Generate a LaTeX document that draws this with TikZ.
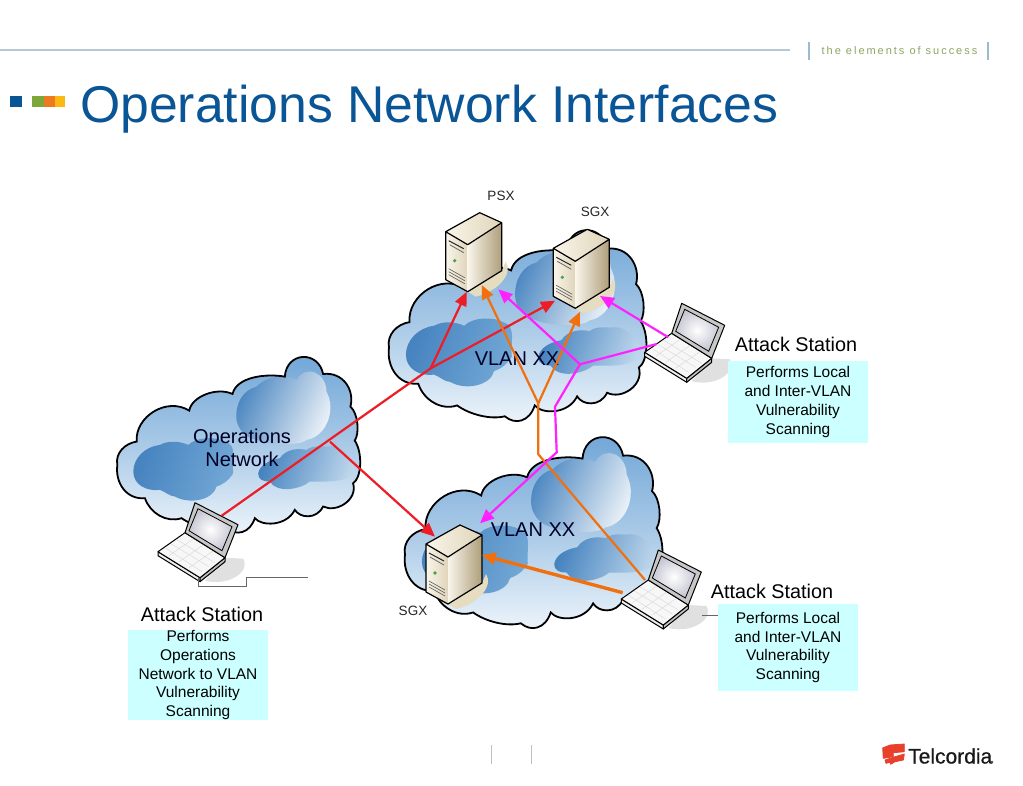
\documentclass[tikz,border=0pt]{standalone}
\usepackage{fontspec}
\setmainfont{Liberation Sans}
\usetikzlibrary{arrows.meta}
\definecolor{titleblue}{HTML}{0A5596}
\definecolor{rulecol}{HTML}{B4C8DA}
\definecolor{tickcol}{HTML}{9DBBD0}
\definecolor{tagcol}{HTML}{8FA660}
\definecolor{boxcyan}{HTML}{CCFFFF}
\definecolor{redl}{HTML}{EE1C25}
\definecolor{orangel}{HTML}{F0700F}
\definecolor{magl}{HTML}{FF22FF}
\definecolor{blobdark}{HTML}{4683BF}
\definecolor{blobmid}{HTML}{74A9D6}
\definecolor{cloudtop}{HTML}{6FA5D6}
\definecolor{cloudbot}{HTML}{EEF5FB}
\definecolor{beige}{HTML}{E6DCC0}
\definecolor{srvlight}{HTML}{F9F5EA}
\definecolor{srvmid}{HTML}{E0D5BA}
\definecolor{srvdark}{HTML}{AE9E7A}
\definecolor{stripg}{HTML}{7BA838}
\definecolor{stripo}{HTML}{EC7A1E}
\definecolor{stripy}{HTML}{FDB913}
\definecolor{logored}{HTML}{E8402A}
\tikzset{
  x=1pt,y=-1pt,
  lbl/.style={inner sep=0pt,align=center,text=black},
  smalllbl/.style={lbl,font=\fontsize{13.5}{14}\selectfont,text=black!85},
  headlbl/.style={lbl,font=\fontsize{19.8}{22}\selectfont},
  cloudlbl/.style={lbl,font=\fontsize{20}{23.5}\selectfont,text=black!85!blue},
  boxtxt/.style={lbl,fill=boxcyan,minimum width=140pt,font=\fontsize{15.5}{18.7}\selectfont},
  redarrow/.style={draw=redl,line width=2.2pt,-{Triangle[length=14pt,width=12pt]}},
  orangearrow/.style={draw=orangel,line width=2.2pt,-{Triangle[length=14pt,width=12pt]}},
  magarrow/.style={draw=magl,line width=2.2pt,-{Triangle[length=14pt,width=12pt]}},
  redline/.style={draw=redl,line width=2.2pt},
  orangeline/.style={draw=orangel,line width=2.2pt},
  magline/.style={draw=magl,line width=2.2pt},
  thinstep/.style={draw=black!60,line width=.8pt},
  tick/.style={draw=tickcol,line width=2.5pt},
  cloudpic/.pic={
    \def\outline{(22,345) .. controls (15,310) and (45,280) .. (80,275)
      .. controls (75,200) and (170,140) .. (238,182)
      .. controls (245,140) and (320,110) .. (368,132)
      .. controls (380,80) and (470,70) .. (525,80)
      .. controls (530,5) and (625,0) .. (640,72)
      .. controls (700,65) and (735,120) .. (722,170)
      .. controls (745,190) and (750,250) .. (735,272)
      .. controls (760,310) and (755,385) .. (730,400)
      .. controls (745,450) and (680,490) .. (640,470)
      .. controls (620,510) and (570,505) .. (555,480)
      .. controls (530,530) and (455,530) .. (435,505)
      .. controls (420,550) and (380,560) .. (350,535)
      .. controls (310,545) and (250,530) .. (215,505)
      .. controls (170,520) and (120,490) .. (105,445)
      .. controls (50,450) and (15,400) .. (22,345) -- cycle}
    \shade[top color=cloudtop,bottom color=cloudbot,middle color=cloudtop!55!cloudbot] \outline;
    \shade[left color=blobdark,right color=blobdark!8!white,shading angle=65]
      (380,210) .. controls (375,160) and (400,120) .. (440,110)
      .. controls (480,70) and (540,75) .. (560,90)
      .. controls (590,40) and (650,70) .. (650,125)
      .. controls (680,180) and (650,260) .. (590,270)
      .. controls (570,290) and (470,285) .. (440,270)
      .. controls (410,265) and (385,240) .. (380,210) -- cycle;
    \shade[left color=blobdark,right color=blobmid,shading angle=70]
      (70,365) .. controls (70,325) and (105,290) .. (150,285)
      .. controls (175,270) and (215,275) .. (235,285)
      .. controls (260,260) and (320,260) .. (345,275)
      .. controls (385,285) and (365,335) .. (370,370)
      .. controls (355,395) and (335,405) .. (320,410)
      .. controls (310,450) and (240,465) .. (195,440)
      .. controls (180,440) and (165,425) .. (150,420)
      .. controls (110,425) and (70,405) .. (70,365) -- cycle;
    \shade[left color=blobdark,right color=blobmid!45!white,shading angle=70]
      (445,370) .. controls (450,345) and (480,330) .. (510,325)
      .. controls (530,295) and (570,295) .. (590,300)
      .. controls (610,285) and (635,290) .. (650,290)
      .. controls (700,280) and (745,340) .. (730,365)
      .. controls (720,400) and (640,395) .. (600,395)
      .. controls (570,420) and (500,430) .. (480,395)
      .. controls (460,395) and (445,390) .. (445,370) -- cycle;
    \draw[black,line width=1.8pt] \outline;
  },
  serverpic/.pic={
    \fill[beige] (22,60) -- (56,39) -- (60,30) .. controls (68,42) and (52,60) .. (30,65) -- cycle;
    \shade[left color=srvlight,right color=srvmid] (0,0) -- (22,13) -- (22,60) -- (0,48) -- cycle;
    \shade[left color=srvlight,right color=srvdark] (22,13) -- (56,-9) -- (56,39) -- (22,60) -- cycle;
    \shade[left color=srvlight,right color=srvmid] (0,0) -- (34,-19) -- (56,-9) -- (22,13) -- cycle;
    \draw[black,line width=1.2pt,line join=round] (0,0) -- (34,-19) -- (56,-9) -- (56,39) -- (22,60) -- (0,48) -- cycle
      (0,0) -- (22,13) -- (56,-9);
    \draw[black!85,line width=1pt] (3,9) -- (18,17);
    \draw[black!60,line width=.8pt] (4,13) -- (18,21);
    \fill[green!45!black!70] (9,29) circle (1.8pt);
    \draw[black!65,line width=.6pt] (3,37) -- (19,46) (3,40) -- (19,49) (3,43) -- (19,52);
  },
  laptoppic/.pic={
    \fill[black!12] (30,55) -- (48,56) .. controls (56,68) and (35,84) .. (10,78) -- cycle;
    \fill[white!93!black,draw=black,line width=1pt,line join=round]
      (-37,49) -- (5,75) -- (5,79) -- (-37,53) -- cycle;
    \fill[black!25,draw=black,line width=1pt,line join=round]
      (5,75) -- (30,55) -- (30,59) -- (5,79) -- cycle;
    \fill[white!97!black,draw=black,line width=1pt,line join=round]
      (-37,49) -- (-10,30) -- (30,55) -- (5,75) -- cycle;
    \draw[black!14,line width=.5pt] (-30,45) -- (7,69) (-24,41) -- (14,64) (-18,37) -- (20,60)
      (-26,53) -- (0,35) (-16,59) -- (10,41) (-6,65) -- (20,47);
    \fill[black!22,draw=black,line width=1pt,line join=round]
      (0,0) -- (43,22) -- (30,55) -- (-10,30) -- cycle;
    \shade[inner color=white,outer color=blue!22!black!22,draw=black,line width=.8pt]
      (3,6) -- (37,24) -- (27,48) -- (-6,28) -- cycle;
  }
}
\begin{document}
\begin{tikzpicture}
\useasboundingbox (0,0) rectangle (1023,785);
\fill[white] (0,0) rectangle (1023,785);
% header
\coordinate (ruleL) at (0,50); \coordinate (ruleR) at (790,50);
\draw[rulecol,line width=1.6pt] (ruleL) -- (ruleR);
\draw[tick] (809,42) -- (809,60);
\draw[tick] (988,42) -- (988,60);
\node[anchor=west,inner sep=0pt,text=tagcol,font=\fontsize{11}{12}\selectfont\addfontfeatures{LetterSpace=18}] (tag) at (821.5,51) {the elements of success};
\fill[titleblue] (10,96) rectangle (22,107);
\fill[stripg] (32,96) rectangle (44,107);
\fill[stripo] (44,96) rectangle (55,107);
\fill[stripy] (55,96) rectangle (65,107);
\node[anchor=base west,inner sep=0pt,text=titleblue,font=\fontsize{51.7}{56}\selectfont] (title) at (80,122) {Operations Network Interfaces};
% clouds
\pic[xscale=.333,yscale=.333] at (110,350) {cloudpic};
\pic[xscale=.353,yscale=.362] at (381.2,222.6) {cloudpic};
\pic[xscale=.353,yscale=.362] at (397.2,429.6) {cloudpic};
% equipment
\pic at (445.7,231.7) {serverpic};
\pic at (553.3,248.3) {serverpic};
\pic at (426,544) {serverpic};
\pic at (195,502.7) {laptoppic};
\pic at (681.7,303.3) {laptoppic};
\pic at (658.3,550) {laptoppic};
% cloud labels
\node[cloudlbl] (opsnet) at (242,448) {Operations\\Network};
\node[cloudlbl] (vlana) at (517,359) {VLAN XX};
\node[cloudlbl] (vlanb) at (533,530) {VLAN XX};
% connector points
\coordinate (rs) at (221.7,515.7);
\coordinate (rb) at (330,441.7);
\coordinate (rj) at (430.7,368.3);
\coordinate (psxR) at (466.7,291.7);
\coordinate (sgxR) at (555,300.7);
\coordinate (sgbR) at (435,536.7);
\coordinate (oj) at (538.3,403.3);
\coordinate (ob) at (538.3,454.3);
\coordinate (ol) at (645,580);
\coordinate (psxO) at (481.7,285);
\coordinate (sgxO) at (580,311.7);
\coordinate (othS) at (622.7,592.7);
\coordinate (othE) at (481.7,555);
\coordinate (ml) at (656.7,344);
\coordinate (mj) at (580,364.3);
\coordinate (mk) at (555,406.7);
\coordinate (mb) at (556.7,452.3);
\coordinate (psxM) at (498.3,289.3);
\coordinate (sgbM) at (480,523.3);
\coordinate (ml2) at (668.3,337.3);
\coordinate (sgxM) at (600,296);
% connectors
\draw[redline] (rs) -- (rj);
\draw[redarrow] (rj) -- (psxR);
\draw[redarrow] (rj) -- (sgxR);
\draw[redarrow] (rb) -- (sgbR);
\draw[orangearrow] (oj) -- (psxO);
\draw[orangearrow] (oj) -- (sgxO);
\draw[orangeline,line join=round] (oj) -- (ob) -- (ol);
\draw[orangearrow,line width=3.4pt] (othS) -- (othE);
\draw[magline] (ml) -- (mj);
\draw[magarrow] (mj) -- (psxM);
\draw[magarrow] (mj) -- (mk) -- (mb) -- (sgbM);
\draw[magarrow] (ml2) -- (sgxM);
% thin steps
\coordinate (sa) at (198.3,578.3); \coordinate (sb) at (198.3,586.7);
\coordinate (sc) at (246,586.7); \coordinate (sd) at (246,577.3); \coordinate (se) at (308.3,577.3);
\draw[thinstep] (sa) -- (sb) -- (sc) -- (sd) -- (se);
\coordinate (ta) at (701.7,615); \coordinate (tb) at (718,615);
\draw[thinstep] (ta) -- (tb);
% small labels
\node[smalllbl] (psxl) at (501,196) {PSX};
\node[smalllbl] (sgxl) at (595,212) {SGX};
\node[smalllbl] (sgbl) at (413,611) {SGX};
% attack stations
\node[headlbl] (as1) at (796,344) {Attack Station};
\node[boxtxt,minimum height=82pt] (b1) at (798,402) {Performs Local\\and Inter-VLAN\\Vulnerability\\Scanning};
\node[headlbl] (as2) at (772,591) {Attack Station};
\node[boxtxt,minimum height=87pt] (b2) at (788,647.5) {Performs Local\\and Inter-VLAN\\Vulnerability\\Scanning};
\node[headlbl] (as3) at (202,614) {Attack Station};
\node[boxtxt,minimum height=88pt] (b3) at (198,675) {Performs\\Operations\\Network to VLAN\\Vulnerability\\Scanning};
% footer
\draw[black!25,line width=1pt] (491,745) -- (491,764);
\draw[black!25,line width=1pt] (531,745) -- (531,764);
\filldraw[logored,line width=.8pt,line join=round] (882.7,748) -- (890,745) -- (904.3,744) -- (904.3,751.7) -- (893.3,752.7) -- (893.3,756.7) -- (883.3,758.3) -- cycle;
\filldraw[logored,line width=.8pt,line join=round] (885,760) -- (895,756.7) -- (904.3,754) -- (903.3,760) -- (895,761.7) -- (890.7,764.3) -- (890,762.3) -- (886,763.3) -- cycle;
\node[anchor=base west,inner sep=0pt,font=\fontsize{21}{24}\selectfont\addfontfeatures{FakeBold=0.6},text=black!90] (logo) at (908,763.5) {Telcordia};
\fill[black!70] (992,762) circle (1.3pt);
\end{tikzpicture}
\end{document}
